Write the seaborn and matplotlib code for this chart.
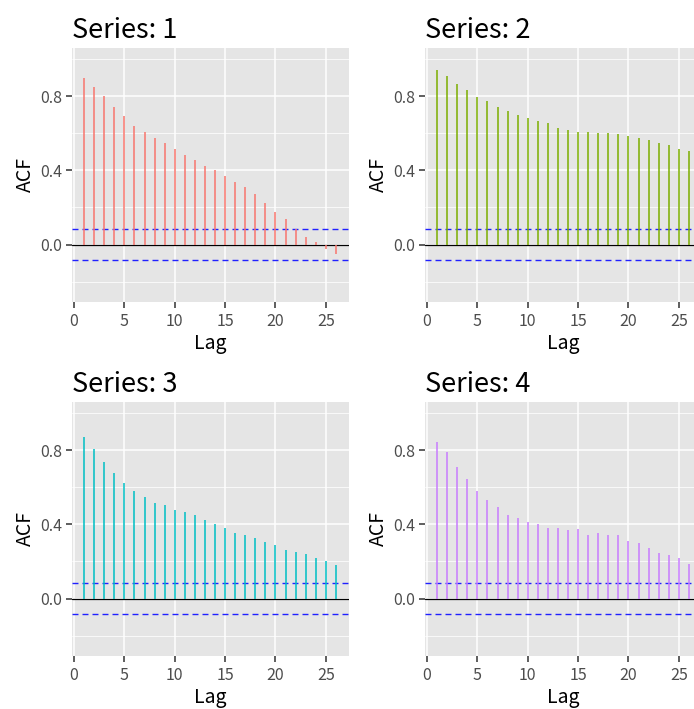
import matplotlib
matplotlib.use("Agg")
import matplotlib.pyplot as plt
import seaborn as sns
import numpy as np
import pandas as pd

# ---- data ----
lags = list(range(1, 27))
series_names = ["Series: 1", "Series: 2", "Series: 3", "Series: 4"]
acf_s1 = [0.897, 0.852, 0.802, 0.741, 0.694, 0.639, 0.606, 0.576, 0.547, 0.515,
          0.484, 0.456, 0.422, 0.402, 0.371, 0.339, 0.310, 0.273, 0.226, 0.178,
          0.135, 0.086, 0.039, 0.016, -0.022, -0.050]
acf_s2 = [0.939, 0.908, 0.867, 0.833, 0.797, 0.772, 0.743, 0.719, 0.696, 0.682,
          0.665, 0.655, 0.629, 0.619, 0.606, 0.608, 0.601, 0.602, 0.595, 0.586,
          0.574, 0.563, 0.550, 0.536, 0.516, 0.502]
acf_s3 = [0.869, 0.808, 0.736, 0.676, 0.622, 0.579, 0.545, 0.516, 0.504, 0.480,
          0.464, 0.448, 0.423, 0.401, 0.378, 0.356, 0.345, 0.324, 0.304, 0.290,
          0.264, 0.252, 0.239, 0.218, 0.200, 0.182]
acf_s4 = [0.842, 0.790, 0.707, 0.647, 0.579, 0.529, 0.493, 0.450, 0.433, 0.412,
          0.403, 0.379, 0.383, 0.367, 0.374, 0.340, 0.354, 0.345, 0.340, 0.309,
          0.297, 0.270, 0.245, 0.236, 0.219, 0.187]
conf_limit = 0.086
series_colors = ["#F8766D", "#7CAE00", "#00BFC4", "#C77CFF"]
x_ticks = [0, 5, 10, 15, 20, 25]
y_ticks = [0.0, 0.4, 0.8]
y_minor = [-0.2, 0.2, 0.6, 1.0]

all_acf = [acf_s1, acf_s2, acf_s3, acf_s4]
df = pd.concat([pd.DataFrame({"series": s, "lag": lags, "acf": a})
                for s, a in zip(series_names, all_acf)], ignore_index=True)

# ---- style ----
sns.set_theme(style="darkgrid")
plt.rcParams['font.family'] = ['Noto Sans CJK JP', 'DejaVu Sans']

W, H = 694, 709
fig = plt.figure(figsize=(W / 100, H / 100), dpi=100)

panel_w = 277
panel_h = 254
rects = [(72, 48), (425, 48), (72, 402), (425, 402)]

for i, name in enumerate(series_names):
    x0, y0 = rects[i]
    ax = fig.add_axes([x0 / W, 1 - (y0 + panel_h) / H, panel_w / W, panel_h / H])
    ax.set_facecolor("#E5E5E5")
    sub = df[df["series"] == name]
    ax.set_xlim(-0.2, 27.3)
    ax.set_ylim(-0.31, 1.06)
    for yv in y_minor:
        ax.axhline(yv, color="white", lw=0.55, zorder=0.5)
    ax.grid(True, which="major", color="white", lw=1.1)
    ax.set_axisbelow(True)
    ax.axhline(0, color="black", lw=0.9, zorder=2)
    for cl in (conf_limit, -conf_limit):
        ax.axhline(cl, color="#2020FF", lw=1.0, ls=(0, (4.3, 2.9)), zorder=2)
    ax.vlines(sub["lag"], 0, sub["acf"], color=series_colors[i], lw=1.1, zorder=3)
    sns.despine(ax=ax, left=True, bottom=True, right=True, top=True)
    ax.set_xticks(x_ticks)
    ax.set_yticks(y_ticks)
    ax.set_yticklabels([f"{v:.1f}" for v in y_ticks])
    ax.tick_params(axis="both", which="major", length=4, width=1.1, color="#333333",
                   labelcolor="#4D4D4D", labelsize=11.5, pad=3)
    ax.tick_params(axis="x", pad=4)
    ax.tick_params(axis="both", bottom=True, left=True)
    ax.set_xlabel("Lag", fontsize=14, color="black", labelpad=2)
    ax.set_ylabel("ACF", fontsize=14, color="black", labelpad=3)
    ax.set_title(name, loc="left", fontsize=19.5, color="black", pad=7)

fig.savefig("out.png", dpi=100)
